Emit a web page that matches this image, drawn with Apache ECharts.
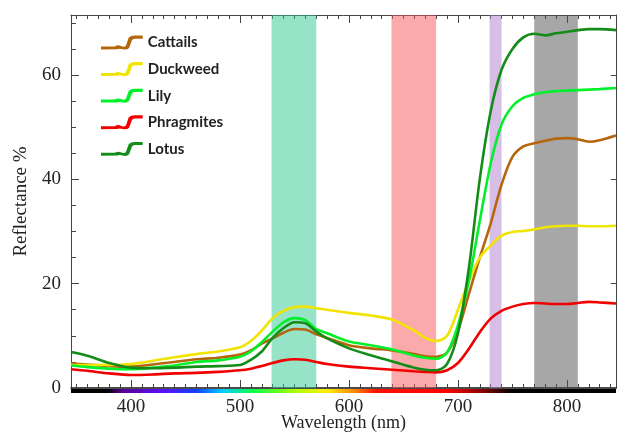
<!DOCTYPE html>
<html>
<head>
<meta charset="utf-8">
<script src="https://cdn.jsdelivr.net/npm/echarts@6/dist/echarts.min.js"></script>
<style>
  html, body { margin: 0; padding: 0; background: #fff; }
  #chart { width: 617px; height: 432px; }
</style>
</head>
<body>
<div id="chart"></div>
<script>
// wavelength (nm) sample points
const wavelengths = [345, 360, 380, 400, 420, 440, 460, 480, 500, 510, 520, 530, 540, 550, 560, 570, 580, 600, 620, 640,
  660, 670, 680, 690, 700, 710, 720, 730, 740, 750, 760, 770, 780, 790, 800, 810, 820, 830, 845]

// reflectance % per plant
const cattails = [4.7, 4.5, 4.2, 4.1, 4.5, 5.0, 5.5, 5.8, 6.4, 7.2, 8.5, 9.5, 10.6, 11.3, 11.2, 10.3, 9.6, 8.2, 7.6, 7.2,
  6.5, 6.1, 6.0, 6.8, 11.0, 18.0, 25.0, 31.5, 39.0, 44.3, 46.3, 46.9, 47.4, 47.8, 47.9, 47.7, 47.2, 47.5, 48.4]
const duckweed = [4.4, 4.4, 4.4, 4.6, 5.2, 5.9, 6.5, 7.0, 7.8, 9.0, 11.0, 13.4, 14.8, 15.5, 15.6, 15.3, 15.0, 14.4, 13.9, 13.1,
  11.0, 9.6, 9.0, 10.0, 15.0, 20.5, 25.0, 27.3, 29.2, 29.9, 30.1, 30.4, 30.8, 31.0, 31.1, 31.1, 31.0, 31.0, 31.1]
const lily = [4.3, 4.0, 3.7, 3.6, 3.9, 4.3, 5.0, 5.3, 6.0, 7.0, 8.8, 10.8, 12.6, 13.4, 13.0, 11.3, 10.5, 8.9, 8.2, 7.4,
  6.2, 5.8, 5.6, 6.8, 12.0, 20.5, 32.0, 43.0, 50.5, 54.0, 55.6, 56.3, 56.7, 56.9, 57.0, 57.1, 57.2, 57.3, 57.5]
const phragmites = [3.6, 3.3, 2.8, 2.5, 2.6, 2.8, 2.9, 3.1, 3.4, 3.7, 4.2, 4.8, 5.3, 5.5, 5.4, 5.0, 4.6, 4.1, 3.8, 3.5,
  3.2, 3.1, 3.0, 3.4, 4.8, 7.5, 10.7, 13.3, 14.8, 15.6, 16.1, 16.3, 16.2, 16.1, 16.1, 16.3, 16.5, 16.4, 16.2]
const lotus = [6.9, 6.2, 4.8, 3.9, 3.8, 3.9, 4.1, 4.2, 4.4, 5.4, 7.0, 9.6, 11.5, 12.6, 12.4, 10.8, 9.5, 7.6, 6.3, 5.1,
  3.9, 3.5, 3.4, 4.6, 10.5, 23.0, 40.0, 53.0, 61.0, 65.0, 67.2, 67.9, 67.6, 68.0, 68.3, 68.6, 68.8, 68.8, 68.6]

const seriesNames = ['Cattails', 'Duckweed', 'Lily', 'Phragmites', 'Lotus']
const xTickLabels = [400, 500, 600, 700, 800]

// highlighted bands [from, to] nm
const bands = [[529, 570], [639, 680], [729, 740], [770, 810]]

const colors = ['#b5660c', '#f0e400', '#00f02a', '#f20000', '#138c18']
const bandColors = ['rgba(45,200,145,0.5)', 'rgba(245,85,85,0.5)', 'rgba(175,125,205,0.5)', 'rgba(80,80,80,0.5)']

const xMin = 345
const xMax = 845
const minorTicks = []
for (let v = 350; v < xMax; v += 10) minorTicks.push(v)

const toPairs = arr => arr.map((v, i) => [wavelengths[i], v])
const allValues = [cattails, duckweed, lily, phragmites, lotus]

// little squiggle used in the legend
const legendIcon = 'path://M0,11 L14,11 Q17,9 20,10.5 Q23,12 25,10.5 L28,2 Q30,0 34,0 L42,0 L42,3.2 L34,3.2 Q31.8,3.2 31.2,4.8 L28.3,12.5 Q26,14.8 22,13.8 Q19,12.8 16,13.8 L0,14 Z'

const chart = echarts.init(document.getElementById('chart'))

const gridLeft = 71
const gridRight = 1
const gridTop = 15
const gridBottom = 44
const plotW = 617 - gridLeft - gridRight

const spectrumStops = [[345, '#000000'], [378, '#000000'], [392, '#5a0090'], [430, '#5a10ff'], [460, '#1040ff'],
  [485, '#00d0ff'], [510, '#00ff50'], [550, '#a8ff00'], [580, '#ffee00'], [605, '#ff8800'], [625, '#ff1000'],
  [690, '#ff0000'], [720, '#900000'], [750, '#000000'], [845, '#000000']]

const serif = 'Liberation Serif'
const axisColor = '#444'

const tickAxis = (pos, values, len, showLine) => ({
  type: 'value', position: pos, min: xMin, max: xMax,
  axisLine: { show: showLine, onZero: false, lineStyle: { color: axisColor } },
  axisTick: { show: true, inside: true, length: len, customValues: values, lineStyle: { color: axisColor } },
  axisLabel: { show: false },
  splitLine: { show: false }
})

const series = seriesNames.map((name, i) => ({
  name,
  type: 'line',
  data: toPairs(allValues[i]),
  smooth: 0.3,
  showSymbol: false,
  lineStyle: { width: 2.6, color: colors[i] },
  itemStyle: { color: colors[i] },
  z: 2
}))

series.push({
  name: 'bands',
  type: 'line',
  data: [],
  z: 5,
  silent: true,
  markArea: {
    silent: true,
    data: bands.map((b, i) => [
      { xAxis: b[0], itemStyle: { color: bandColors[i] } },
      { xAxis: b[1] }
    ])
  }
})

chart.setOption({
  animation: false,
  backgroundColor: '#fff',
  grid: { left: gridLeft, right: gridRight, top: gridTop, bottom: gridBottom, outerBoundsMode: 'none', containLabel: false },
  legend: {
    data: seriesNames,
    orient: 'vertical',
    left: 96,
    top: 30,
    icon: legendIcon,
    itemWidth: 42,
    itemHeight: 14,
    itemGap: 11.6,
    textStyle: { fontFamily: 'Lato', fontWeight: 'bold', fontSize: 15, color: '#222', lineHeight: 14 }
  },
  xAxis: [
    {
      type: 'value',
      min: xMin,
      max: xMax,
      name: 'Wavelength (nm)',
      nameLocation: 'middle',
      nameGap: 26,
      nameMoveOverlap: false,
      nameTextStyle: { fontFamily: serif, fontSize: 18, color: '#222' },
      axisLine: { show: true, onZero: false, lineStyle: { color: '#111', width: 1.5 } },
      axisTick: { show: true, inside: true, length: 8, customValues: xTickLabels, lineStyle: { color: axisColor } },
      axisLabel: { customValues: xTickLabels, margin: 10, fontFamily: serif, fontSize: 19, color: '#222' },
      splitLine: { show: false }
    },
    tickAxis('bottom', minorTicks, 4, false),
    tickAxis('top', xTickLabels, 8, true),
    tickAxis('top', minorTicks, 4, false)
  ],
  yAxis: [
    {
      type: 'value',
      min: 0,
      max: 71.5,
      interval: 20,
      name: 'Reflectance %',
      nameLocation: 'middle',
      nameGap: 40,
      nameMoveOverlap: false,
      nameTextStyle: { fontFamily: serif, fontSize: 19, color: '#222' },
      axisLine: { show: true, lineStyle: { color: axisColor } },
      axisTick: { show: true, inside: true, length: 8, lineStyle: { color: axisColor } },
      minorTick: { show: true, splitNumber: 4, length: 5, lineStyle: { color: axisColor } },
      axisLabel: { margin: 10, fontFamily: serif, fontSize: 19, color: '#222', showMaxLabel: false,
        formatter: v => (v % 20 === 0 ? String(v) : '') },
      splitLine: { show: false }
    },
    {
      type: 'value',
      position: 'right',
      min: 0,
      max: 71.5,
      interval: 20,
      axisLine: { show: true, lineStyle: { color: axisColor } },
      axisTick: { show: true, inside: true, length: 5, lineStyle: { color: axisColor } },
      axisLabel: { show: false },
      splitLine: { show: false }
    }
  ],
  series,
  graphic: [{
    type: 'rect',
    left: gridLeft,
    top: 432 - gridBottom + 1,
    shape: { width: plotW, height: 4 },
    style: {
      fill: new echarts.graphic.LinearGradient(0, 0, 1, 0,
        spectrumStops.map(s => ({ offset: (s[0] - xMin) / (xMax - xMin), color: s[1] })))
    },
    silent: true
  }]
})
</script>
</body>
</html>
